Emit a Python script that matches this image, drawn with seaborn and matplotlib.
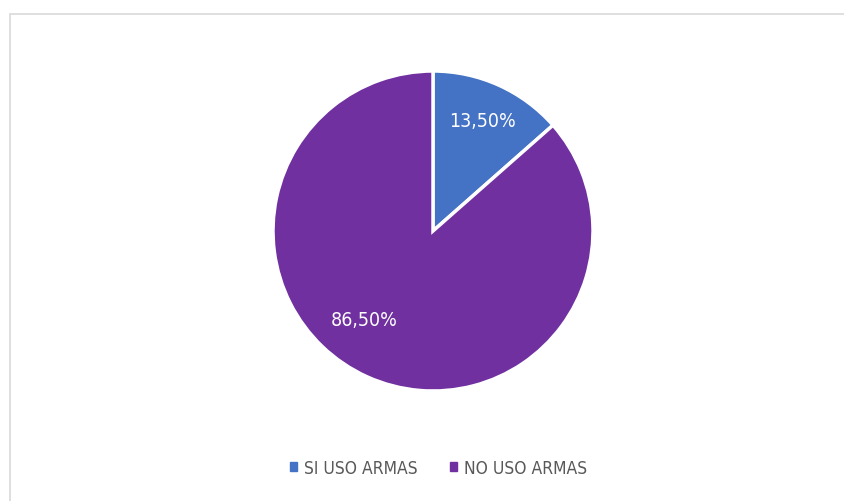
import matplotlib.pyplot as plt
import matplotlib.patches as mpatches
import numpy as np
import seaborn as sns

sns.set_theme(style="white")
plt.rcParams['font.family'] = ['DejaVu Sans']
plt.rcParams['font.stretch'] = 'condensed'

categories = ['SI USO ARMAS', 'NO USO ARMAS']
values = [13.5, 86.5]
labels = ['13,50%', '86,50%']
colors = ['#4472C4', '#7030A0']

fig = plt.figure(figsize=(8.44, 5.02), dpi=100)

# chart area border (light gray), running off the right/bottom edges
fig.patches.append(mpatches.Rectangle((10 / 844, -0.02), 1.0, (502 - 14.5) / 502 + 0.02,
                                      transform=fig.transFigure, fill=False,
                                      edgecolor='#D9D9D9', linewidth=1.2))

ax = fig.add_axes([273 / 844, 110 / 502, 320 / 844, 320 / 502])
wedges, _ = ax.pie(values, colors=colors, startangle=90, counterclock=False,
                   radius=1, wedgeprops=dict(edgecolor='white', linewidth=2.5))
ax.set_xlim(-1, 1)
ax.set_ylim(-1, 1)
ax.set_aspect('equal')
ax.axis('off')

# data labels inside the slices
label_pos = [(0.31, 0.69), (-0.43, -0.55)]
for (x, y), lab in zip(label_pos, labels):
    ax.text(x, y, lab, color='white', fontsize=14, ha='center', va='center',
            fontstretch='condensed')

handles = [mpatches.Patch(color=c, label=n) for c, n in zip(colors, categories)]
fig.legend(handles=handles, loc='center', bbox_to_anchor=(438.5 / 844, 1 - 469 / 502),
           ncol=2, frameon=False, fontsize=12.5, labelcolor='#595959',
           handlelength=0.4, handleheight=0.4, handletextpad=0.4, columnspacing=1.9)

plt.savefig('out.png', dpi=100)
